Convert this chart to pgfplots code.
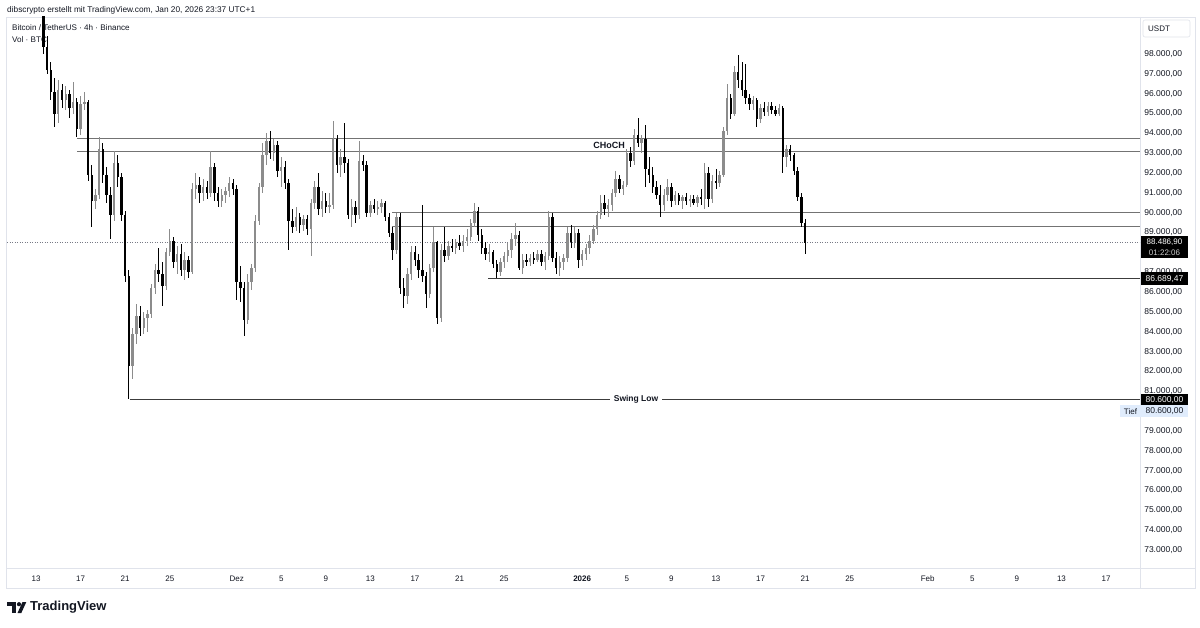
\documentclass[border=0pt]{standalone}
\usepackage{fontspec}
\setmainfont{Liberation Sans}
\usepackage{pgfplots}
\usepackage{pgfplotstable}
\pgfplotsset{compat=1.18}
\definecolor{tc}{RGB}{19,23,34}
\definecolor{upc}{RGB}{140,140,140}
\definecolor{dnc}{RGB}{0,0,0}
\definecolor{lvl}{RGB}{115,115,115}
\definecolor{lvl2}{RGB}{60,60,60}
\definecolor{framec}{RGB}{224,227,235}
\definecolor{tiefbg}{RGB}{224,236,252}
\definecolor{dotc}{RGB}{120,123,134}

\pgfplotstableread{
i o h l c
0 103500 104200 101800 102200
1 102200 102600 100400 100600
2 100600 101000 98000 98350
3 98350 98900 97000 97200
4 97200 97600 95700 96100
5 96100 96800 94300 95000
6 95000 96700 94500 96200
7 96200 96500 95300 95700
8 95700 96400 95200 96000
9 96000 96200 94800 95300
10 95300 96600 95000 95600
11 95600 95800 93800 94200
12 94200 95900 93900 95500
13 95500 96100 95200 95600
14 95600 95700 91600 91900
15 91900 92400 89300 90600
16 90600 91200 90200 90900
17 90900 93800 90700 93200
18 93200 93500 91500 91900
19 91900 92300 90500 90900
20 90900 91300 88700 89900
21 89900 93100 89600 92500
22 92500 92900 91300 91800
23 91800 92000 89600 89900
24 89900 90100 86500 86800
25 86800 87100 80600 82300
26 82300 84200 81600 83900
27 83900 85400 83400 84800
28 84800 85300 83800 84200
29 84200 85000 83900 84700
30 84700 85100 84000 84900
31 84900 86400 84700 86200
32 86200 87400 85900 87100
33 87100 88200 86500 86900
34 86900 87500 85300 86300
35 86300 88200 86100 88000
36 88000 89200 87800 88600
37 88600 88800 87200 87500
38 87500 88300 86900 87900
39 87900 88400 86800 87100
40 87100 88000 86600 87600
41 87600 87800 86700 87000
42 87000 91500 86900 91200
43 91200 92000 90700 91400
44 91400 91800 90500 91000
45 91000 91700 90600 91300
46 91300 91600 90700 91000
47 91000 93100 90800 92300
48 92300 92500 90600 91000
49 91000 91300 90300 90600
50 90600 91200 90300 90900
51 90900 91300 90500 91100
52 91100 91800 90800 91500
53 91500 91700 90900 91200
54 91200 91400 85600 86500
55 86500 87300 85500 86200
56 86200 86500 83800 84600
57 84600 86900 84400 86500
58 86500 87400 86100 87200
59 87200 89900 87000 89600
60 89600 91500 89400 91300
61 91300 93500 91000 92900
62 92900 94000 92400 93600
63 93600 94100 92700 93000
64 93000 93700 92600 93400
65 93400 93600 91800 92100
66 92100 92800 91300 92300
67 92300 92600 91200 91500
68 91500 91700 88100 89600
69 89600 90200 89000 89300
70 89300 90300 89100 89800
71 89800 90000 89000 89400
72 89400 89900 89100 89700
73 89700 89900 88900 89200
74 89200 90700 87800 90500
75 90500 91600 90200 91300
76 91300 92000 89900 90200
77 90200 91100 89800 90600
78 90600 91000 90000 90300
79 90300 91000 90000 90400
80 90400 94600 90200 93700
81 93700 93900 92000 92400
82 92400 93200 91800 92800
83 92800 94500 92000 92500
84 92500 92700 89700 89900
85 89900 90700 89300 90300
86 90300 90600 89500 89900
87 89900 93600 89700 92600
88 92600 92900 92100 92400
89 92400 92600 89800 90000
90 90000 90600 89800 90400
91 90400 90700 90000 90200
92 90200 90600 89900 90300
93 90300 90700 90000 90500
94 90500 90600 89600 89800
95 89800 90000 88800 89000
96 89000 89300 87600 88100
97 88100 90000 87900 89800
98 89800 90000 85900 86200
99 86200 86700 85200 85800
100 85800 87200 85400 86900
101 86900 88300 86600 88000
102 88000 88300 87300 87600
103 87600 87900 86700 87100
104 87100 90400 86500 86800
105 86800 87000 85200 85900
106 85900 87400 85700 87200
107 87200 89300 87000 88500
108 88500 88600 84400 84700
109 84700 88400 84500 88100
110 88100 89300 87500 87800
111 87800 88600 87600 88300
112 88300 88700 88000 88200
113 88200 88700 87900 88500
114 88500 88900 88100 88300
115 88300 88900 88000 88600
116 88600 89200 88300 88800
117 88800 89700 88600 89500
118 89500 90500 89300 90100
119 90100 90300 88600 88900
120 88900 89200 87900 88200
121 88200 88500 87600 87900
122 87900 88400 87500 88000
123 88000 88100 87200 87400
124 87400 87600 86690 87000
125 87000 87700 86800 87500
126 87500 88000 87200 87800
127 87800 88500 87500 88100
128 88100 89000 87700 88700
129 88700 89500 88300 88900
130 88900 89100 87100 87200
131 87200 87900 86900 87600
132 87600 87900 87300 87500
133 87500 87900 87300 87700
134 87700 88000 87400 87600
135 87600 88100 87500 87900
136 87900 88100 87300 87500
137 87500 88000 87100 87800
138 87800 90100 87600 89800
139 89800 90000 87500 87700
140 87700 88000 86900 87200
141 87200 87800 86800 87500
142 87500 87900 87100 87700
143 87700 89300 87500 89000
144 89000 89400 88200 88500
145 88500 89300 88200 89000
146 89000 89200 87200 87600
147 87600 88100 87300 87900
148 87900 88400 87600 88200
149 88200 88900 87900 88600
150 88600 89400 88400 89200
151 89200 90100 88900 89900
152 89900 90900 89700 90500
153 90500 90900 89900 90200
154 90200 90700 89800 90400
155 90400 91200 90100 91000
156 91000 92100 90800 91700
157 91700 91900 91000 91200
158 91200 91600 90900 91400
159 91400 93200 91300 93000
160 93000 93300 92300 92600
161 92600 94200 92400 93900
162 93900 94800 93300 93500
163 93500 93900 93000 93700
164 93700 94400 91300 92200
165 92200 92800 91500 91900
166 91900 92300 91000 91300
167 91300 91600 90700 90900
168 90900 91400 89800 90400
169 90400 91200 90100 90900
170 90900 91700 90600 91300
171 91300 91500 90300 90600
172 90600 91100 90400 90900
173 90900 91000 90400 90600
174 90600 90900 90200 90800
175 90800 91000 90400 90600
176 90600 90900 90300 90700
177 90700 90900 90400 90500
178 90500 90900 90300 90800
179 90800 91200 90400 90700
180 90700 92500 90200 92000
181 92000 92300 90300 90700
182 90700 91900 90500 91600
183 91600 92200 91200 91500
184 91500 92100 91300 91900
185 91900 94300 91800 94100
186 94100 96500 93900 95800
187 95800 96000 94700 95000
188 95000 97400 94900 97100
189 97100 97950 96300 96700
190 96700 97600 95900 96200
191 96200 97500 95500 95800
192 95800 96000 95200 95500
193 95500 95900 95200 95700
194 95700 95800 94300 94700
195 94700 95500 94500 95300
196 95300 95600 94900 95100
197 95100 95600 94900 95400
198 95400 95600 95000 95200
199 95200 95400 94900 95000
200 95000 95500 94900 95300
201 95300 95400 92000 92800
202 92800 93400 92300 93200
203 93200 93400 92600 92900
204 92900 93000 91900 92100
205 92100 92300 90600 90800
206 90800 91000 89300 89500
207 89500 89700 87900 88487
}\candles

\begin{document}
\begin{tikzpicture}
\begin{scope}[x=1pt,y=-1pt,shift={(0pt,627pt)}]
  \fill[white] (0,0) rectangle (1200,627);
  \path[use as bounding box] (0,0) rectangle (1200,627);
  \node[anchor=west, inner sep=0pt, text=tc, font=\fontsize{8.3}{10}\selectfont] at (7,10)
    {dibscrypto erstellt mit TradingView.com, Jan 20, 2026 23:37 UTC+1};
  \draw[framec, line width=0.8pt] (6.5,17) rectangle (1195,588);
  \draw[framec, line width=0.8pt] (6.5,568) -- (1195,568);
  \draw[framec, line width=0.8pt] (1140,17) -- (1140,588);
  \node[anchor=west, inner sep=0pt, text=tc, font=\fontsize{8.1}{10}\selectfont] at (12,27.5)
    {Bitcoin / TetherUS · 4h · Binance};
  \node[anchor=west, inner sep=0pt, text=tc, font=\fontsize{8.1}{10}\selectfont] at (12,39.5)
    {Vol · BTC};
\end{scope}

\begin{axis}[
  at={(7pt,59pt)}, anchor=south west,
  scale only axis, width=1133pt, height=551pt,
  xmin=-2.602, xmax=99.05, ymin=72094, ymax=99865,
  axis line style={draw=none},
  major tick length=0pt,
  tick style={draw=none},
  scaled y ticks=false,
  ytick pos=right, yticklabel pos=right,
  ytick={73000,74000,75000,76000,77000,78000,79000,81000,82000,83000,84000,85000,86000,87000,89000,90000,91000,92000,93000,94000,95000,96000,97000,98000},
  yticklabel style={anchor=west, inner sep=0pt, xshift=4pt, text=tc,
    font=\fontsize{8.5}{10}\selectfont,
    /pgf/number format/.cd, fixed, fixed zerofill, precision=2, use comma, 1000 sep={.}},
  xtick={0,4,8,12,18,22,26,30,34,38,42,49,53,57,61,65,69,73,80,84,88,92,96},
  xticklabels={13,17,21,25,Dez,5,9,13,17,21,25,\textbf{2026},5,9,13,17,21,25,Feb,5,9,13,17},
  xticklabel style={anchor=base, inner sep=0pt, yshift=-13pt, text=tc,
    font=\fontsize{8}{10}\selectfont},
  /pgf/number format/assume math mode=true,
]
% dotted last price line
\draw[dotc, line width=0.8pt, dash pattern=on 1pt off 1.5pt] (axis cs:-2.602,88486.9) -- (axis cs:99.05,88486.9);
% level lines
\draw[lvl, line width=1.2pt] (axis cs:3.68,93741) -- (axis cs:99.05,93741);
\draw[lvl, line width=1.2pt] (axis cs:3.68,93076) -- (axis cs:99.05,93076);
\draw[lvl, line width=1.2pt] (axis cs:31.94,90021) -- (axis cs:99.05,90021);
\draw[lvl, line width=1.2pt] (axis cs:31.94,89295) -- (axis cs:99.05,89295);
\draw[lvl2, line width=1pt] (axis cs:40.55,86689.47) -- (axis cs:99.05,86689.47);
\draw[lvl2, line width=1pt] (axis cs:8.4,80600) -- (axis cs:99.05,80600);

% up wicks
\addplot[draw=none, mark=none, restrict y to domain=0:200000,
  error bars/.cd, y dir=both, y explicit, error mark=none,
  error bar style={draw=upc, line width=0.8pt}]
  table[x expr=\thisrow{i}/3,
        y expr={\thisrow{c}>=\thisrow{o} ? (\thisrow{h}+\thisrow{l})/2 : 900000},
        y error expr={(\thisrow{h}-\thisrow{l})/2}] {\candles};
% down wicks
\addplot[draw=none, mark=none, restrict y to domain=0:200000,
  error bars/.cd, y dir=both, y explicit, error mark=none,
  error bar style={draw=dnc, line width=0.8pt}]
  table[x expr=\thisrow{i}/3,
        y expr={\thisrow{c}<\thisrow{o} ? (\thisrow{h}+\thisrow{l})/2 : 900000},
        y error expr={(\thisrow{h}-\thisrow{l})/2}] {\candles};
% up bodies
\addplot[draw=none, mark=none, restrict y to domain=0:200000,
  error bars/.cd, y dir=both, y explicit, error mark=none,
  error bar style={draw=upc, line width=2.4pt}]
  table[x expr=\thisrow{i}/3,
        y expr={\thisrow{c}>=\thisrow{o} ? (\thisrow{o}+\thisrow{c})/2 : 900000},
        y error expr={max(abs(\thisrow{c}-\thisrow{o})/2,25)}] {\candles};
% down bodies
\addplot[draw=none, mark=none, restrict y to domain=0:200000,
  error bars/.cd, y dir=both, y explicit, error mark=none,
  error bar style={draw=dnc, line width=2.4pt}]
  table[x expr=\thisrow{i}/3,
        y expr={\thisrow{c}<\thisrow{o} ? (\thisrow{o}+\thisrow{c})/2 : 900000},
        y error expr={max(abs(\thisrow{c}-\thisrow{o})/2,25)}] {\candles};

\node[font=\bfseries\fontsize{9}{10}\selectfont, text=tc, inner sep=0pt] at (axis cs:51.41,93414) {CHoCH};
\node[font=\bfseries\fontsize{8.5}{10}\selectfont, text=tc, fill=white, inner xsep=4pt, inner ysep=1pt] at (axis cs:53.83,80600) {Swing Low};
\end{axis}

\begin{scope}[x=1pt,y=-1pt,shift={(0pt,627pt)}]
  \fill[white] (1141,18) rectangle (1194,40);
  \draw[framec, line width=0.6pt, rounded corners=2pt] (1143,20) rectangle (1190,37);
  \node[anchor=west, inner sep=0pt, text=tc, font=\fontsize{8}{10}\selectfont] at (1148,28.5) {USDT};
  % last price box
  \fill[black] (1141,236) rectangle (1188,258);
  \node[text=white, inner sep=0pt, font=\fontsize{8}{9}\selectfont] at (1164.5,241.8) {88.486,90};
  \node[text=white!80!black, inner sep=0pt, font=\fontsize{8}{9}\selectfont] at (1164.5,252.8) {01:22:06};
  % 86,689.47 box
  \fill[black] (1141,272.5) rectangle (1188,285);
  \node[text=white, inner sep=0pt, font=\fontsize{8.5}{10}\selectfont] at (1164.5,278.8) {86.689,47};
  % 80,600 box
  \fill[black] (1141,394) rectangle (1188,406);
  \node[text=white, inner sep=0pt, font=\fontsize{8.5}{10}\selectfont] at (1164.5,400) {80.600,00};
  % Tief box
  \fill[tiefbg] (1120,405.5) rectangle (1188,417);
  \node[text=tc, inner sep=0pt, font=\fontsize{8}{10}\selectfont] at (1130.5,411.3) {Tief};
  \node[text=tc, inner sep=0pt, font=\fontsize{8.5}{10}\selectfont] at (1164.5,411.3) {80.600,00};
  % TradingView logo
  \fill[tc] (7,602) rectangle (16,606);
  \fill[tc] (11.5,602) rectangle (16,613);
  \fill[tc] (19,604.2) circle (2.1);
  \fill[tc] (17.5,613) -- (21.3,613) -- (26.3,602) -- (22.5,602) -- cycle;
  \node[anchor=west, inner sep=0pt, text=tc, font=\bfseries\fontsize{13}{15}\selectfont] at (30,607.5) {TradingView};
\end{scope}
\end{tikzpicture}
\end{document}
